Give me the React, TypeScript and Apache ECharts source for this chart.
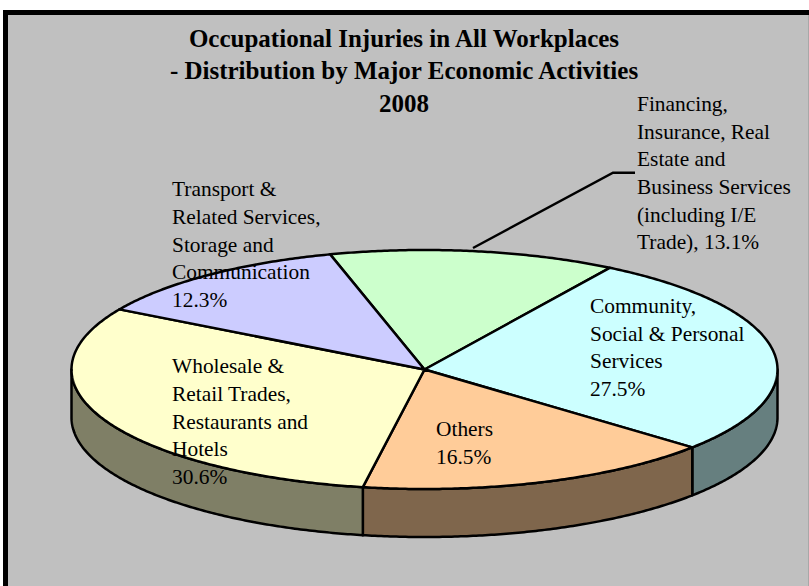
import React, { useEffect, useRef } from "react";
import * as echarts from "echarts";

const titleLines = [
  "Occupational Injuries in All Workplaces",
  "- Distribution by Major Economic Activities",
  "2008",
];
const categories = [
  "Financing, Insurance, Real Estate and Business Services (including I/E Trade)",
  "Community, Social & Personal Services",
  "Others",
  "Wholesale & Retail Trades, Restaurants and Hotels",
  "Transport & Related Services, Storage and Communication",
];
const values = [13.1, 27.5, 16.5, 30.6, 12.3];
const topColors = ["#CCFFCC", "#CCFFFF", "#FFCC99", "#FFFFCC", "#CCCCFF"];
const sideColors = ["#667F66", "#667F7F", "#7F664C", "#7F7F66", "#66667F"];
const labelTexts = [
  "Financing,\nInsurance, Real\nEstate and\nBusiness Services\n(including I/E\nTrade), 13.1%",
  "Community,\nSocial & Personal\nServices\n27.5%",
  "Others\n16.5%",
  "Wholesale &\nRetail Trades,\nRestaurants and\nHotels\n30.6%",
  "Transport &\nRelated Services,\nStorage and\nCommunication\n12.3%",
];

const START_DEG = -15.5;
const CX = 424.5;
const CY = 369.5;
const RX = 353;
const RY = 119.5;
const DEPTH = 48;

const pt = (deg: number, dy = 0): number[] => {
  const a = (deg * Math.PI) / 180;
  return [CX + RX * Math.sin(a), CY - RY * Math.cos(a) + dy];
};

const arcPts = (from: number, to: number, dy = 0): number[][] => {
  const out: number[][] = [];
  const n = Math.max(2, Math.ceil(Math.abs(to - from) * 2));
  for (let i = 0; i <= n; i++) out.push(pt(from + ((to - from) * i) / n, dy));
  return out;
};

const total = values.reduce((s, v) => s + v, 0);
const spans = (() => {
  let acc = START_DEG;
  return values.map((v) => {
    const from = acc;
    acc += (v / total) * 360;
    return [from, acc];
  });
})();

const STROKE = { stroke: "#000", lineWidth: 2.5, lineJoin: "round" as const };

const sideChildren = (i: number): any[] => {
  const from = Math.max(spans[i][0], 90);
  const to = Math.min(spans[i][1], 270);
  if (to <= from) return [];
  const points = [...arcPts(from, to), ...arcPts(to, from, DEPTH)];
  return [
    {
      type: "polygon",
      shape: { points },
      style: { fill: sideColors[i], ...STROKE },
    },
  ];
};

const topChildren = (i: number): any[] => [
  {
    type: "polygon",
    shape: { points: [[CX, CY], ...arcPts(spans[i][0], spans[i][1])] },
    style: { fill: topColors[i], ...STROKE },
  },
];

const labelPos = [
  [637, 90],
  [590, 292],
  [436, 415],
  [172, 352.5],
  [172, 175.5],
];

export default function App() {
  const ref = useRef<HTMLDivElement>(null);
  useEffect(() => {
    const chart = echarts.init(ref.current!, null, { renderer: "svg" });
    const font = '"Liberation Serif", "Times New Roman", serif';
    chart.setOption({
      animation: false,
      backgroundColor: "#C0C0C0",
      series: [
        {
          type: "custom",
          coordinateSystem: "none",
          silent: true,
          data: categories.map((name, i) => ({ name, value: values[i] })),
          renderItem: (params: any) => {
            const i = params.dataIndex;
            return { type: "group", children: [...sideChildren(i), ...topChildren(i)] };
          },
        },
      ],
      graphic: [
        {
          type: "polyline",
          z: 10,
          shape: { points: [[473, 248], [613, 172.7], [635, 172.7]] },
          style: { stroke: "#000", lineWidth: 2.5, fill: "none" },
        },
        ...titleLines.map((t, i) => ({
          type: "text",
          z: 10,
          x: 404,
          y: 38 + i * 32.5,
          style: {
            text: t,
            font: `bold 25px ${font}`,
            fill: "#000",
            textAlign: "center",
            textVerticalAlign: "middle",
          },
        })),
        ...labelTexts.map((t, i) => ({
          type: "text",
          z: 10,
          x: labelPos[i][0],
          y: labelPos[i][1],
          style: {
            text: t,
            font: `21.4px ${font}`,
            lineHeight: 27.7,
            fill: "#000",
            textAlign: "left",
            textVerticalAlign: "top",
          },
        })),
      ],
    });
    return () => chart.dispose();
  }, []);
  return (
    <div
      style={{
        position: "absolute",
        left: 0,
        top: 0,
        width: 809,
        height: 586,
        overflow: "hidden",
        background: "#fff",
      }}
    >
      <div ref={ref} style={{ position: "absolute", left: 0, top: 0, width: 809, height: 586 }} />
      <div style={{ position: "absolute", left: 0, top: 0, width: 809, height: 10, background: "#fff" }} />
      <div style={{ position: "absolute", left: 0, top: 0, width: 3, height: 586, background: "#fff" }} />
      <div style={{ position: "absolute", left: 3, top: 10, width: 806, height: 5, background: "#000" }} />
      <div style={{ position: "absolute", left: 3, top: 10, width: 5, height: 576, background: "#000" }} />
      <div style={{ position: "absolute", left: 808, top: 15, width: 1, height: 571, background: "#A8A8A8" }} />
    </div>
  );
}
